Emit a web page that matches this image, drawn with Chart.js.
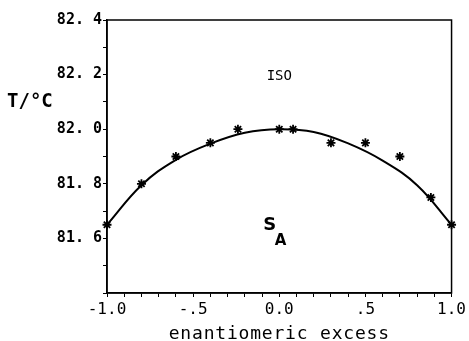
<!DOCTYPE html>
<html>
<head>
<meta charset="utf-8">
<script src="https://cdn.jsdelivr.net/npm/chart.js@4"></script>
<style>
html,body{margin:0;padding:0;background:#fff;}
#c{display:block;}
</style>
</head>
<body>
<canvas id="c" width="469" height="341"></canvas>
<script>
// Measured points (enantiomeric excess vs transition temperature)
const excessPoints = [-1.0, -0.8, -0.6, -0.4, -0.24, 0.0, 0.08, 0.3, 0.5, 0.7, 0.88, 1.0];
const tempPoints   = [81.65, 81.80, 81.90, 81.95, 82.00, 82.00, 82.00, 81.95, 81.95, 81.90, 81.75, 81.65];
// Fitted curve
const curveExcess = [-1.0, -0.8, -0.6, -0.4, -0.2, 0.0, 0.2, 0.4, 0.6, 0.8, 1.0];
const curveTemp   = [81.65, 81.795, 81.888, 81.947, 81.987, 82.0, 81.99, 81.948, 81.885, 81.795, 81.65];
// Axis tick labels
const xTickLabels = {"-10": "-1.0", "-5": "-.5", "0": "0.0", "5": ".5", "10": "1.0"};
const yTickLabels = {"816": "81. 6", "818": "81. 8", "820": "82. 0", "822": "82. 2", "824": "82. 4"};
const xTitle = "enantiomeric excess";
const yTitle = "T/°C";
const isoLabel = "ISO";
const phaseLabel = ["S", "A"];

const mono = "'DejaVu Sans Mono', monospace";

const textPlugin = {
  id: 'texts',
  afterDraw(chart) {
    const ctx = chart.ctx;
    const a = chart.chartArea;
    const xs = chart.scales.x, ys = chart.scales.y;
    ctx.save();
    // frame
    ctx.strokeStyle = '#000';
    ctx.lineWidth = 1.5;
    ctx.strokeRect(a.left, a.top, a.right - a.left, a.bottom - a.top);
    ctx.fillStyle = '#000';
    // y title (horizontal)
    ctx.font = "bold 19px " + mono;
    ctx.textAlign = 'left';
    ctx.textBaseline = 'middle';
    ctx.fillText(yTitle, 7, 102);
    // x title
    ctx.font = "18px " + mono;
    ctx.textAlign = 'center';
    ctx.textBaseline = 'alphabetic';
    try { ctx.letterSpacing = '0.8px'; } catch (e) {}
    ctx.fillText(xTitle, (a.left + a.right) / 2, 339);
    try { ctx.letterSpacing = '0px'; } catch (e) {}
    // ISO
    ctx.font = "14px " + mono;
    ctx.textBaseline = 'middle';
    ctx.fillText(isoLabel, xs.getPixelForValue(0.0), ys.getPixelForValue(82.195));
    // S_A
    ctx.font = "bold 18px 'DejaVu Sans', sans-serif";
    ctx.fillText(phaseLabel[0], xs.getPixelForValue(-0.056), ys.getPixelForValue(81.648));
    ctx.font = "bold 15px 'DejaVu Sans', sans-serif";
    ctx.fillText(phaseLabel[1], xs.getPixelForValue(0.007), ys.getPixelForValue(81.59));
    ctx.restore();
  }
};

new Chart(document.getElementById('c'), {
  type: 'scatter',
  data: {
    datasets: [
      {
        label: 'fit',
        data: curveExcess.map((x, i) => ({x: x, y: curveTemp[i]})),
        showLine: true,
        borderColor: '#000',
        borderWidth: 2,
        pointRadius: 0,
        tension: 0.4,
        fill: false
      },
      {
        label: 'data',
        data: excessPoints.map((x, i) => ({x: x, y: tempPoints[i]})),
        showLine: false,
        pointStyle: 'star',
        pointRadius: 4.5,
        borderColor: '#000',
        backgroundColor: '#000',
        borderWidth: 1.8,
        clip: false
      }
    ]
  },
  options: {
    responsive: false,
    animation: false,
    devicePixelRatio: 1,
    layout: {padding: {left: 0, right: 15, top: 20, bottom: 0}},
    plugins: {legend: {display: false}, tooltip: {enabled: false}},
    scales: {
      x: {
        type: 'linear',
        min: -1, max: 1,
        afterFit(s) { s.height = 48; },
        border: {display: true, color: '#000', width: 1.5},
        grid: {display: true, drawOnChartArea: false, drawTicks: true, tickLength: 4, color: '#000', lineWidth: 1},
        ticks: {
          stepSize: 0.1,
          autoSkip: false,
          maxRotation: 0,
          padding: 3,
          color: '#000',
          font: {family: mono, size: 16},
          callback(v) { const k = String(Math.round(v * 10)); return xTickLabels[k] !== undefined ? xTickLabels[k] : ''; }
        }
      },
      y: {
        type: 'linear',
        min: 81.4, max: 82.4,
        afterFit(s) { s.width = 107; },
        border: {display: true, color: '#000', width: 1.5},
        grid: {display: true, drawOnChartArea: false, drawTicks: true, tickLength: 4, color: '#000', lineWidth: 1},
        ticks: {
          stepSize: 0.1,
          autoSkip: false,
          padding: 1,
          color: '#000',
          font: {family: mono, size: 15, weight: 'bold'},
          callback(v) { const k = String(Math.round(v * 10)); return yTickLabels[k] !== undefined ? yTickLabels[k] : ''; }
        }
      }
    }
  },
  plugins: [textPlugin]
});
</script>
</body>
</html>
